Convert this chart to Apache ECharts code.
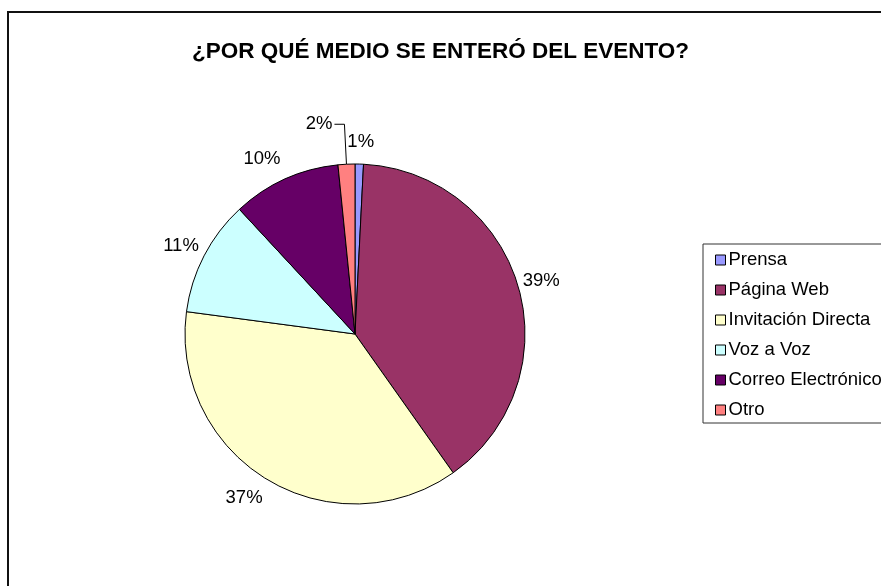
<!DOCTYPE html>
<html>
<head>
<meta charset="utf-8">
<title>¿POR QUÉ MEDIO SE ENTERÓ DEL EVENTO?</title>
<script src="https://cdn.jsdelivr.net/npm/echarts@6/dist/echarts.min.js"></script>
<style>
  html, body { margin: 0; padding: 0; background: #fff; }
  #chart { width: 881px; height: 586px; }
</style>
</head>
<body>
<div id="chart"></div>
<script>
// categorias y porcentajes
var categories = ['Prensa', 'Página Web', 'Invitación Directa', 'Voz a Voz', 'Correo Electrónico', 'Otro']
var values = [0.8, 39.4, 36.9, 11.0, 10.3, 1.6]
var colors = ['#9999FF', '#993366', '#FFFFCC', '#CCFFFF', '#660066', '#FF8080']

var cx = 355
var cy = 334
var radius = 170
var total = values.reduce(function(a, b) { return a + b }, 0)

var chart = echarts.init(document.getElementById('chart'))

chart.setOption({
  animation: false,
  textStyle: { fontFamily: 'Liberation Sans, Arial, sans-serif' },
  graphic: [{
    type: 'rect',
    shape: { x: 8, y: 12, width: 900, height: 600 },
    style: { fill: 'none', stroke: '#111', lineWidth: 2 },
    silent: true
  }],
  title: {
    text: '¿POR QUÉ MEDIO SE ENTERÓ DEL EVENTO?',
    left: 'center',
    top: 40,
    padding: 0,
    textStyle: { fontSize: 22.5, fontWeight: 'bold', color: '#000', fontFamily: 'Liberation Sans, Arial, sans-serif' }
  },
  legend: {
    orient: 'vertical',
    left: 703,
    top: 244,
    padding: [6, 10, 3, 12],
    itemGap: 10,
    itemWidth: 10,
    itemHeight: 10,
    icon: 'rect',
    borderColor: '#333',
    borderWidth: 1,
    itemStyle: { borderColor: '#000', borderWidth: 1 },
    textStyle: { fontSize: 18.5, lineHeight: 20, color: '#000', padding: [0, 0, 0, -2] },
    data: categories
  },
  series: [{
    type: 'pie',
    center: [cx, cy],
    radius: radius,
    startAngle: 90,
    clockwise: true,
    avoidLabelOverlap: false,
    itemStyle: { borderColor: '#000', borderWidth: 1 },
    emphasis: { disabled: true },
    label: {
      position: 'outside',
      formatter: function(p) {
        return Math.round(p.percent) + '%'
      },
      fontSize: 18.5,
      color: '#000',
      distanceToLabelLine: 2
    },
    labelLine: {
      length: 40,
      length2: 10,
      lineStyle: { color: '#000', width: 1 }
    },
    labelLayout: function(p) {
      // Otro keeps its leader line; the rest sit just off the rim, Excel style
      if (p.dataIndex === 5) {
        return {}
      }
      var before = 0
      for (var i = 0; i < p.dataIndex; i++) {
        before += values[i]
      }
      var mid = (before + values[p.dataIndex] / 2) / total * 2 * Math.PI
      var s = Math.sin(mid)
      var c = Math.cos(mid)
      var side = Math.max(-1, Math.min(1, s * 2.5))
      return {
        x: cx + radius * s + 23 * side,
        y: cy - radius * c - 22 * c,
        align: 'center',
        verticalAlign: 'middle'
      }
    },
    data: categories.map(function(name, i) {
      return {
        name: name,
        value: values[i],
        itemStyle: { color: colors[i] },
        labelLine: { show: i === 5 }
      }
    })
  }]
})
</script>
</body>
</html>
